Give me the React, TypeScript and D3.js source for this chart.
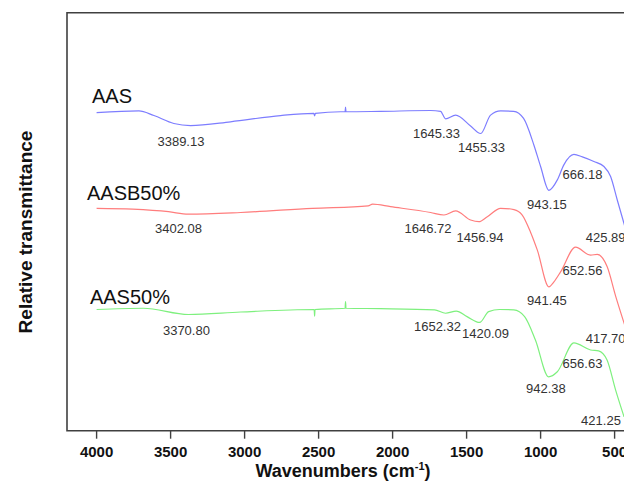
import React from "react";
import * as d3 from "d3";

// wavenumber (cm-1) and relative transmittance (arbitrary units)
const aasWave = [4000, 3714, 3613, 3478, 3365, 3095, 2757, 2532, 2527, 2522, 2351, 2321, 2318, 2315, 2081, 1743, 1676, 1642, 1574, 1473, 1405, 1338, 1270, 1182, 1115, 1045, 1000, 944, 887, 843, 775, 718, 640, 572, 527, 482, 432];
const aasT = [76.1, 76.5, 75.4, 73.5, 73.0, 73.9, 75.4, 75.9, 75.3, 75.9, 76.3, 76.3, 77.4, 76.3, 76.4, 76.6, 76.4, 74.6, 75.5, 72.9, 71.1, 75.5, 76.5, 76.4, 74.7, 68.3, 63.2, 57.5, 60.0, 63.6, 66.1, 65.5, 64.4, 63.2, 60.8, 55.2, 49.0];

const aasbWave = [4000, 3757, 3514, 3380, 3027, 2542, 2165, 2135, 2014, 1743, 1653, 1574, 1473, 1417, 1360, 1270, 1180, 1124, 1068, 1022, 944, 910, 865, 764, 662, 617, 550, 493, 432];
const aasbT = [53.2, 53.0, 52.4, 51.8, 52.2, 53.2, 53.8, 54.2, 53.6, 52.2, 51.6, 52.6, 50.4, 50.0, 51.2, 53.2, 52.9, 51.6, 47.5, 43.2, 34.4, 35.6, 38.0, 43.9, 42.0, 42.2, 39.2, 32.2, 25.3];

const aas50Wave = [4000, 3684, 3380, 3027, 2530, 2527, 2524, 2321, 2318, 2315, 2081, 1716, 1642, 1570, 1497, 1412, 1351, 1278, 1181, 1108, 1035, 946, 887, 775, 662, 608, 551, 493, 436];
const aas50T = [29.0, 29.3, 27.8, 28.4, 29.0, 27.4, 29.0, 29.3, 30.9, 29.3, 29.2, 28.9, 28.1, 28.6, 27.3, 25.9, 28.5, 29.0, 28.9, 27.3, 21.7, 12.9, 14.1, 21.0, 19.3, 19.1, 16.9, 9.7, 3.3];

const seriesNames = ["AAS", "AASB50%", "AAS50%"];
const seriesColors = ["#7d7dff", "#ff7d7d", "#7ef07e"];
// where each name sits (wavenumber, transmittance)
const nameWave = [4031, 4065, 4045];
const nameT = [78.4, 55.2, 30.3];

const peakText = [
  ["3389.13", "1645.33", "1455.33", "943.15", "666.18", "425.89"],
  ["3402.08", "1646.72", "1456.94", "941.45", "652.56", "417.70"],
  ["3370.80", "1652.32", "1420.09", "942.38", "656.63", "421.25"],
];
const peakWave = [
  [3430, 1703, 1399, 957, 717, 561],
  [3447, 1761, 1409, 957, 717, 561],
  [3393, 1697, 1372, 964, 717, 592],
];
const peakT = [
  [68.1, 70.0, 66.7, 53.0, 60.2, 45.1],
  [47.3, 47.3, 45.1, 30.1, 37.2, 21.0],
  [22.9, 23.9, 22.2, 9.0, 15.0, 1.4],
];

const tickValues = [4000, 3500, 3000, 2500, 2000, 1500, 1000, 500];

const font = "Arial, 'Liberation Sans', sans-serif";

export default function App() {
  const width = 624;
  const height = 498;
  const left = 67;
  const right = 644.2;
  const top = 12.7;
  const bottom = 430.7;

  const x = d3.scaleLinear().domain([4200, 300]).range([left, right]);
  const y = d3.scaleLinear().domain([0, 100]).range([bottom, top]);

  const waves = [aasWave, aasbWave, aas50Wave];
  const values = [aasT, aasbT, aas50T];

  // monotone in x, so feed points left to right on screen
  const line = d3.line<[number, number]>()
    .x(d => x(d[0]))
    .y(d => y(d[1]))
    .curve(d3.curveMonotoneX);

  return (
    <div style={{ position: "absolute", left: 0, top: 0 }}>
      <svg width={width} height={height} style={{ display: "block", background: "#fff" }}>
        {/* frame */}
        <path d={`M${right},${top}H${left}V${bottom}H${right}`}
          fill="none" stroke="#404040" strokeWidth={1.6} />
        {tickValues.map(t => (
          <g key={t} transform={`translate(${x(t)},${bottom})`}>
            <line y1={0} y2={8} stroke="#404040" strokeWidth={1.4} />
            <text y={26.3} textAnchor="middle" fontFamily={font} fontWeight="bold"
              fontSize={15} fill="#111">{t}</text>
          </g>
        ))}

        {waves.map((w, i) => (
          <path key={i}
            d={line(w.map((v, j) => [v, values[i][j]] as [number, number])) || ""}
            fill="none" stroke={seriesColors[i]} strokeWidth={1.2} />
        ))}

        {seriesNames.map((n, i) => (
          <text key={n} x={x(nameWave[i])} y={y(nameT[i])} fontFamily={font}
            fontSize={20} fill="#111">{n}</text>
        ))}

        {peakText.map((row, i) => row.map((t, j) => (
          <text key={i + "-" + j} x={x(peakWave[i][j])} y={y(peakT[i][j])}
            textAnchor="middle" fontFamily={font} fontSize={13} fill="#333">{t}</text>
        )))}

        <text x={343} y={477} textAnchor="middle" fontFamily={font} fontWeight="bold"
          fontSize={18} fill="#111">
          Wavenumbers (cm<tspan dy={-7} fontSize={11}>-1</tspan><tspan dy={7}>)</tspan>
        </text>
        <text transform="translate(32,232) rotate(-90)" textAnchor="middle" fontFamily={font}
          fontWeight="bold" fontSize={19} fill="#111">Relative transmittance</text>
      </svg>
    </div>
  );
}
